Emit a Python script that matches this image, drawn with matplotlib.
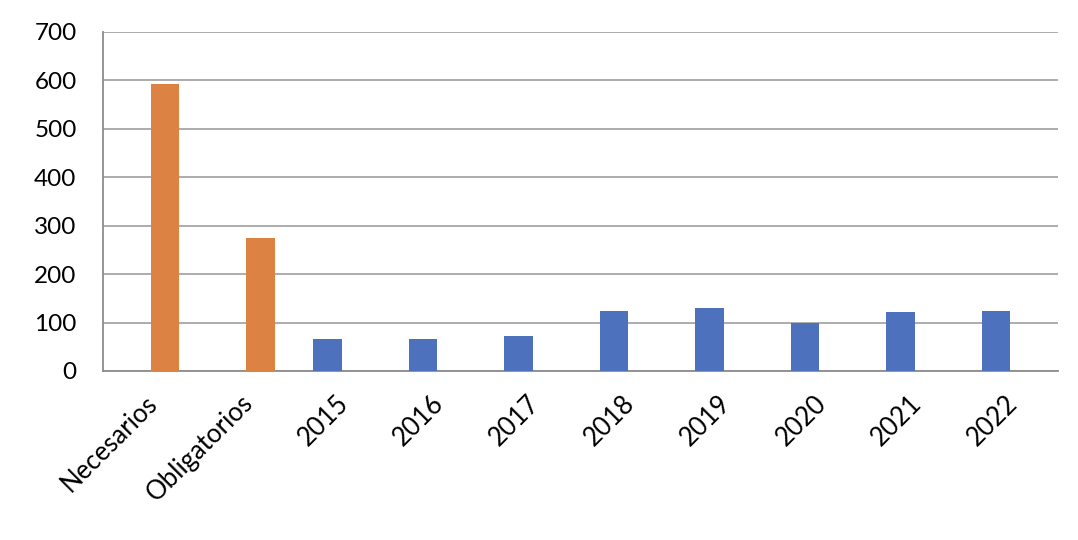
import matplotlib
matplotlib.use("Agg")
import matplotlib.pyplot as plt
import matplotlib.transforms as mtransforms
import numpy as np

categories = ["Necesarios", "Obligatorios", "2015", "2016", "2017", "2018", "2019", "2020", "2021", "2022"]
orange_vals = [593, 275, None, None, None, None, None, None, None, None]
blue_vals = [None, None, 66, 66, 72, 124, 130, 100, 122, 124]
yticks = [0, 100, 200, 300, 400, 500, 600, 700]

plt.rcParams['font.family'] = ['Lato', 'DejaVu Sans']

fig = plt.figure(figsize=(10.78, 5.4), dpi=100)
ax = fig.add_axes([0.0955, 0.313, 0.886, 0.628])

x = np.arange(len(categories))
w = 0.3
bx = [xi - 0.15 for xi, v in zip(x, blue_vals) if v is not None]
bv = [v for v in blue_vals if v is not None]
ox = [xi + 0.15 for xi, v in zip(x, orange_vals) if v is not None]
ov = [v for v in orange_vals if v is not None]
ax.bar(bx, bv, width=w, color="#4E71BE", zorder=3)
ax.bar(ox, ov, width=w, color="#DC8343", zorder=3)

ax.set_xlim(-0.5, len(categories) - 0.5)
ax.set_ylim(0, 700)
ax.set_yticks(yticks)
ax.set_yticklabels([str(t) for t in yticks], fontsize=17.5)
ax.yaxis.grid(True, color="#A6A6A6", linewidth=1.3, zorder=0)
ax.set_xticks(x)
ax.set_xticklabels(categories, rotation=45, ha="right", rotation_mode="anchor", fontsize=18.5)
ax.tick_params(axis="x", length=0, pad=14)
ax.tick_params(axis="y", length=0, pad=19)
offset = mtransforms.ScaledTranslation(-6 / 100, 0, fig.dpi_scale_trans)
for lab in ax.get_xticklabels():
    lab.set_transform(lab.get_transform() + offset)
for s in ["top", "right"]:
    ax.spines[s].set_visible(False)
for s in ["left", "bottom"]:
    ax.spines[s].set_color("#8C8C8C")
    ax.spines[s].set_linewidth(1.3)

fig.savefig("out.png", dpi=100)
